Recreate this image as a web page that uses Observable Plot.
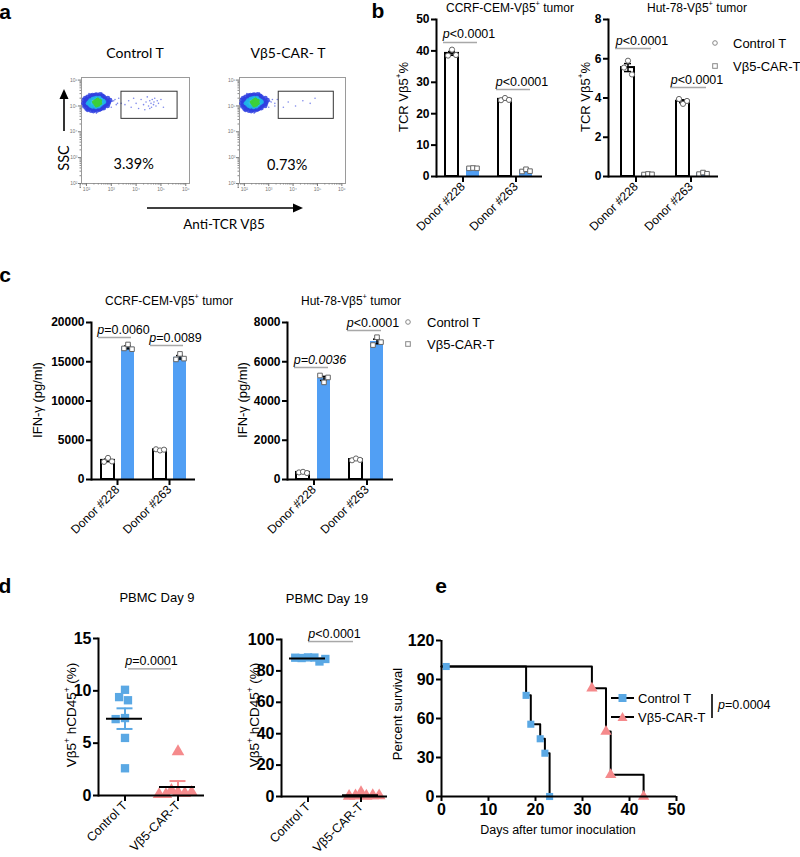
<!DOCTYPE html>
<html><head><meta charset="utf-8">
<script src="https://cdn.jsdelivr.net/npm/d3@7"></script>
<script src="https://cdn.jsdelivr.net/npm/@observablehq/plot@0.6"></script>
<style>
body{margin:0;background:#fff;}
#fig{position:relative;width:800px;height:857px;overflow:hidden;background:#fff;color:#000;font-family:"Liberation Sans",Arial,Helvetica,sans-serif;}
#fig sup{font-size:0.62em;line-height:0;vertical-align:0.75em;}
</style></head>
<body><div id="fig"></div>
<script>
// ---------------- DATA ----------------
const donors = ["Donor #228", "Donor #263"];
const groups = ["Control T", "Vβ5-CAR-T"];

// panel b: TCR Vβ5+ % (three replicates per donor)
const ccrfTcrControl = [[38.5, 40.4, 38.7], [24.3, 25.0, 24.4]];
const ccrfTcrCar = [[2.6, 2.7, 2.6], [1.6, 2.3, 1.7]];
const hutTcrControl = [[5.55, 5.9, 5.2], [3.95, 3.7, 3.85]];
const hutTcrCar = [[0.1, 0.13, 0.11], [0.12, 0.2, 0.14]];
const tcrTicksCcrf = [0, 10, 20, 30, 40, 50];
const tcrTicksHut = [0, 2, 4, 6, 8];

// panel c: IFN-γ (pg/ml)
const ccrfIfnControl = [[2250, 2750, 2300], [3850, 3700, 3800]];
const ccrfIfnCar = [[16700, 17200, 16600], [15300, 16000, 15400]];
const hutIfnControl = [[360, 390, 330], [980, 1070, 1000]];
const hutIfnCar = [[5300, 4950, 5200], [6850, 7250, 7000]];
const ifnTicksCcrf = [0, 5000, 10000, 15000, 20000];
const ifnTicksHut = [0, 2000, 4000, 6000, 8000];

// p-values (y = height of the comparison line)
const pTcrCcrf = [{y: 42.7, text: "<0.0001"}, {y: 27.7, text: "<0.0001"}];
const pTcrHut = [{y: 6.52, text: "<0.0001"}, {y: 4.53, text: "<0.0001"}];
const pIfnCcrf = [{y: 18089, text: "=0.0060"}, {y: 17070, text: "=0.0089"}];
const pIfnHut = [{y: 5707, text: "=0.0036", italic: true}, {y: 7592, text: "<0.0001"}];

// panel d: Vβ5+ hCD45+ (%)
const day9Control = [10.1, 9.4, 9.1, 7.4, 7.3, 5.5, 2.6];
const day9Car = [4.2, 0.3, 0.5, 0.2, 0.1, 0.3, 0.1];
const day19Control = [88.6, 88.2, 88.5, 86.0, 88.4, 87.6];
const day19Car = [2.5, 0.4, 0.3, 0.6, 0.2, 0.5];
const day9Ticks = [0, 5, 10, 15];
const day19Ticks = [0, 20, 40, 60, 80, 100];
const pDay9 = {y: 12.1, text: "=0.0001"};
const pDay19 = {y: 98.7, text: "<0.0001"};

// panel e: survival
const controlDays = [0, 18, 19, 21, 22, 23];
const controlSurvival = [100, 77.8, 55.6, 44.4, 33.3, 0];
const carDays = [0, 32, 35, 36, 43];
const carSurvival = [100, 83.3, 50, 16.7, 0];
const firstMarkerDay = 1;
const dayTicks = [0, 10, 20, 30, 40, 50];
const survTicks = [0, 30, 60, 90, 120];

// panel a: flow cytometry events, [log10 Vβ5, log10 SSC, density level]
const flowCluster = [
 [1.88,5.10,0],[1.90,5.22,0],[1.92,4.98,0],[1.95,5.30,0],[1.97,5.05,0],[2.00,4.90,0],[2.02,5.18,0],[2.05,5.35,0],
 [2.05,4.85,0],[2.08,5.00,0],[2.10,5.27,0],[2.12,4.95,0],[2.15,5.40,0],[2.18,4.82,0],[2.20,5.32,0],[2.22,4.90,0],
 [2.25,5.42,0],[2.28,4.80,0],[2.30,5.38,0],[2.35,4.85,0],[2.40,5.44,0],[2.42,4.82,0],[2.48,5.40,0],[2.52,4.86,0],
 [2.55,5.45,0],[2.60,4.90,0],[2.62,5.40,0],[2.66,4.95,0],[2.70,5.35,0],[2.72,5.00,0],[2.75,5.28,0],[2.78,5.05,0],
 [2.80,5.20,0],[2.83,5.12,0],[2.86,5.30,0],[2.90,5.15,0],[2.95,5.22,0],
 [1.95,5.15,0],[2.00,5.05,0],[2.85,5.00,0],[2.70,4.92,0],[2.45,4.90,0],[2.35,5.42,0],
 [2.00,5.25,0],[2.10,4.90,0],[2.30,4.88,0],[2.55,4.88,0],[2.65,5.38,0],[2.88,5.08,0],[1.93,5.05,0],[2.20,5.38,0],
 [3.05,5.18,3],[3.15,5.25,3],[3.25,5.10,3],[1.85,5.30,3],[2.40,4.72,3],[2.62,5.50,3],[3.00,4.95,3],[2.10,5.48,3],
 [2.05,5.10,1],[2.10,5.15,1],[2.12,5.05,1],[2.15,5.22,1],[2.18,5.00,1],[2.20,5.12,1],[2.25,5.28,1],[2.25,4.97,1],
 [2.30,5.05,1],[2.32,5.30,1],[2.38,4.95,1],[2.40,5.32,1],[2.50,4.98,1],[2.52,5.32,1],[2.58,5.05,1],[2.60,5.25,1],
 [2.65,5.10,1],[2.68,5.20,1],[2.72,5.15,1],
 [2.30,5.15,2],[2.35,5.08,2],[2.38,5.20,2],[2.42,5.12,2],[2.45,5.25,2],[2.48,5.05,2],[2.50,5.15,2],[2.55,5.20,2],
 [2.55,5.10,2],[2.45,5.15,2],[2.40,5.02,2]
];
const flowGateControl = [
 [3.55,5.05,3],[3.70,5.20,3],[3.80,4.95,3],[3.90,5.30,3],[4.00,5.10,3],[4.10,4.90,3],[4.20,5.25,3],[4.30,5.05,3],
 [4.35,4.85,3],[4.40,5.15,3],[4.45,5.35,3],[4.50,5.00,3],[4.55,5.20,3],[4.60,5.10,3],[4.62,4.95,3],[4.65,5.25,3],
 [4.70,5.05,3],[4.72,5.15,3],[4.75,5.30,3],[4.80,5.00,3],[4.85,5.20,3],[4.90,5.10,3],[5.00,5.25,3],[5.10,4.95,3],
 [4.55,4.90,3],[3.10,5.20,3],[3.20,5.05,3],[3.30,5.30,3],[3.40,5.10,3]
];
const flowGateCar = [
 [3.80,5.15,3],[4.10,5.00,3],[4.40,5.20,3],[4.70,5.10,3],[3.60,4.95,3],[4.90,5.30,3],[3.10,5.15,3],[3.25,5.00,3],[3.35,5.25,3]
];
const gateBounds = {x1: 10 ** 3.41, x2: 10 ** 5.67, y1: 10 ** 4.5, y2: 10 ** 5.55};
const gatePercentControl = {x: 10 ** 3.9, y: 10 ** 2.74, text: "3.39%"};
const gatePercentCar = {x: 10 ** 3.76, y: 10 ** 2.72, text: "0.73%"};

// ---------------- HELPERS ----------------
const FONT = '"Liberation Sans", Arial, Helvetica, sans-serif';
const FLOWFONT = 'Lato, "Open Sans", sans-serif';
const BLUE_BAR = "#519ff4";
const BLUE_PT = "#5aa8e4";
const PINK = "#f58a8c";
const PLINE = "#a8a8a8";
const PSIZE = 12.5;
const fig = document.getElementById("fig");
const baseStyle = {fontFamily: FONT, fontSize: "12px", color: "black", background: "transparent", overflow: "visible", maxWidth: "none"};

function mount(opts, left, top) {
  const el = Plot.plot({...opts, style: baseStyle});
  const w = document.createElement("div");
  w.style.cssText = `position:absolute;left:${left}px;top:${top}px;width:${opts.width}px;height:${opts.height}px;`;
  w.appendChild(el);
  fig.appendChild(w);
}
function label(html, x, y, o = {}) {
  const d = document.createElement("div");
  d.innerHTML = html;
  const tr = o.anchor === "start" ? "translate(0,-50%)" : "translate(-50%,-50%)";
  d.style.cssText = `position:absolute;left:${x}px;top:${y}px;white-space:nowrap;line-height:1;` +
    `font-size:${o.size || 12}px;font-family:${o.font || FONT};font-weight:${o.weight || "normal"};` +
    `transform:${tr}${o.rotate ? " rotate(" + o.rotate + "deg)" : ""};`;
  fig.appendChild(d);
}
const ctx = document.createElement("canvas").getContext("2d");
function tw(t, size, italic) { ctx.font = `${italic ? "italic " : ""}${size}px ${FONT}`; return ctx.measureText(t).width; }
function pMarks(data, o) {
  return data.flatMap(d => {
    const wp = tw("p", o.size, true), wr = tw(d.text, o.size, !!d.italic);
    const dx = (o.shift || 0) - (wp + wr) / 2 + wp;
    const common = {fx: "fx", y: "y", dx, dy: o.dy, fontSize: o.size, frameAnchor: o.frameAnchor || "middle"};
    return [
      Plot.text([d], {...common, text: () => "p", textAnchor: "end", fontStyle: "italic"}),
      Plot.text([d], {...common, text: "text", textAnchor: "start", fontStyle: d.italic ? "italic" : "normal"})
    ];
  });
}

// ---------------- BAR PANELS (b, c) ----------------
function barPanel(o) {
  const reps = [];
  donors.forEach((dn, i) => {
    o.control[i].forEach((v, r) => reps.push({donor: dn, group: groups[0], value: v, rep: r}));
    o.car[i].forEach((v, r) => reps.push({donor: dn, group: groups[1], value: v, rep: r}));
  });
  const stats = d3.flatGroup(reps, d => d.donor, d => d.group).map(([donor, group, vs]) => {
    const vals = vs.map(d => d.value);
    const m = d3.mean(vals), s = d3.deviation(vals) / Math.sqrt(vals.length);
    return {donor, group, mean: m, lo: m - s, hi: m + s};
  });
  const pdata = o.p.map((p, i) => ({...p, fx: donors[i]}));
  const ctrlFilter = d => d.group === groups[0];
  mount({
    width: o.width, height: o.height, marginLeft: o.ml, marginTop: o.mt, marginRight: o.mr, marginBottom: o.mb,
    fx: {domain: donors, paddingInner: 0, paddingOuter: 0},
    x: {domain: groups, paddingInner: 0.36, paddingOuter: o.po ?? 0.43, align: o.align ?? 0.5, axis: null},
    y: {domain: o.yDomain},
    marks: [
      Plot.barY(stats, {fx: "donor", x: "group", y: "mean", filter: ctrlFilter, fill: "white", stroke: "black", strokeWidth: 2}),
      Plot.barY(stats, {fx: "donor", x: "group", y: "mean", filter: d => !ctrlFilter(d), fill: BLUE_BAR}),
      Plot.ruleX(stats, {fx: "donor", x: "group", y1: "lo", y2: "hi", stroke: "black", strokeWidth: 1.5}),
      Plot.tickY(stats, {fx: "donor", x: "group", y: "hi", stroke: "black", strokeWidth: 1.5, insetLeft: 3, insetRight: 3}),
      Plot.tickY(stats, {fx: "donor", x: "group", y: "lo", stroke: "black", strokeWidth: 1.5, insetLeft: 3, insetRight: 3}),
      ...[0, 1, 2].map(r => Plot.dot(reps.filter(d => d.rep === r), {
        fx: "donor", x: "group", y: "value", dx: (r - 1) * 4, r: 2.6,
        symbol: d => ctrlFilter(d) ? "circle" : "square", fill: "white", stroke: "#666", strokeWidth: 1
      })),
      Plot.ruleY(pdata, {fx: "fx", y: "y", stroke: PLINE, strokeWidth: 1.5, insetLeft: 7, insetRight: 12}),
      ...pMarks(pdata, {size: PSIZE, dy: -8, shift: 6}),
      Plot.frame({anchor: "left", facetAnchor: "left", strokeWidth: 2}),
      Plot.ruleY([0], {strokeWidth: 2}),
      Plot.axisY({ticks: o.yTicks, tickFormat: d3.format("d"), tickSize: 5, tickPadding: 2, fontSize: 12, fontWeight: "bold", strokeWidth: 2, label: null}),
      Plot.axisFx({anchor: "bottom", tickSize: 6, tickRotate: -45, tickPadding: 2, fontSize: 12, strokeWidth: 2, label: null})
    ]
  }, o.left, o.top);
}

barPanel({control: ccrfTcrControl, car: ccrfTcrCar, yDomain: [0, 50], yTicks: tcrTicksCcrf, p: pTcrCcrf,
  left: 376, top: 0, width: 180, height: 245, ml: 60, mt: 19, mr: 14, mb: 69});
barPanel({control: hutTcrControl, car: hutTcrCar, yDomain: [0, 8], yTicks: tcrTicksHut, p: pTcrHut,
  left: 560, top: 0, width: 175, height: 245, ml: 47, mt: 19, mr: 17, mb: 69, po: 0.5, align: 0.58});
barPanel({control: ccrfIfnControl, car: ccrfIfnCar, yDomain: [0, 20000], yTicks: ifnTicksCcrf, p: pIfnCcrf,
  left: 30, top: 300, width: 180, height: 245, ml: 60, mt: 22, mr: 15, mb: 66});
barPanel({control: hutIfnControl, car: hutIfnCar, yDomain: [0, 8000], yTicks: ifnTicksHut, p: pIfnHut,
  left: 230, top: 300, width: 180, height: 245, ml: 57, mt: 22, mr: 17, mb: 66});

// ---------------- DOT PANELS (d) ----------------
function dotPanel(o) {
  const pts = [
    ...o.control.map(v => ({group: groups[0], value: v})),
    ...o.car.map(v => ({group: groups[1], value: v}))
  ];
  const colors = [BLUE_PT, PINK];
  const stats = groups.map((g, i) => {
    const vals = pts.filter(d => d.group === g).map(d => d.value);
    const m = d3.mean(vals), s = d3.deviation(vals) / Math.sqrt(vals.length);
    return {group: g, mean: m, lo: m - s, hi: m + s, color: colors[i]};
  });
  const pl = [{fx: groups[0], y: o.p.y}, {fx: groups[1], y: o.p.y}];
  mount({
    width: o.width, height: o.height, marginLeft: o.ml, marginTop: o.mt, marginRight: o.mr, marginBottom: o.mb,
    fx: {domain: groups, paddingInner: 0, paddingOuter: 0},
    x: {domain: [-1, 1], axis: null},
    y: {domain: o.yDomain},
    marks: [
      Plot.ruleX(stats, {fx: "group", x: () => 0, y1: "lo", y2: "hi", stroke: "color", strokeWidth: 2}),
      Plot.ruleY(stats, {fx: "group", y: "hi", stroke: "color", strokeWidth: 2, insetLeft: 18.5, insetRight: 18.5}),
      Plot.ruleY(stats, {fx: "group", y: "lo", stroke: "color", strokeWidth: 2, insetLeft: 18.5, insetRight: 18.5}),
      Plot.dot(pts.filter(d => d.group === groups[0]), Plot.dodgeX({anchor: "middle", padding: o.padCtrl},
        {fx: "group", y: "value", r: 4.7, symbol: "square", fill: BLUE_PT})),
      Plot.dot(pts.filter(d => d.group === groups[1]), Plot.dodgeX({anchor: "middle", padding: o.padCar},
        {fx: "group", y: "value", r: 4.7, symbol: "triangle", fill: PINK})),
      Plot.ruleY(stats, {fx: "group", y: "mean", stroke: "black", strokeWidth: 2, insetLeft: 8, insetRight: 9}),
      Plot.ruleY(pl.slice(0, 1), {fx: "fx", y: "y", stroke: PLINE, strokeWidth: 1.5, insetLeft: o.pIn[0]}),
      Plot.ruleY(pl.slice(1), {fx: "fx", y: "y", stroke: PLINE, strokeWidth: 1.5, insetRight: o.pIn[1]}),
      ...pMarks([{fx: groups[0], y: o.p.y, text: o.p.text}], {size: PSIZE, dy: -7.5, shift: 0, frameAnchor: "right"}),
      Plot.frame({anchor: "left", facetAnchor: "left", strokeWidth: 2}),
      Plot.ruleY([0], {strokeWidth: 2}),
      Plot.axisY({ticks: o.yTicks, tickFormat: d3.format("d"), tickSize: 5, tickPadding: 2, fontSize: 16, fontWeight: "bold", strokeWidth: 2, label: null}),
      Plot.axisFx({anchor: "bottom", tickSize: 6, tickRotate: -45, tickPadding: 2, fontSize: 12.5, strokeWidth: 2, label: null})
    ]
  }, o.left, o.top);
}
dotPanel({control: day9Control, car: day9Car, yDomain: [0, 15], yTicks: day9Ticks, p: pDay9, padCtrl: 0, padCar: -2.5, pIn: [30, 33],
  left: 30, top: 600, width: 185, height: 257, ml: 68, mt: 38, mr: 11, mb: 62});
dotPanel({control: day19Control, car: day19Car, yDomain: [0, 100], yTicks: day19Ticks, p: pDay19, padCtrl: -3, padCar: -3, pIn: [27, 34],
  left: 215, top: 600, width: 185, height: 257, ml: 66, mt: 39, mr: 13, mb: 61});

// ---------------- SURVIVAL (e) ----------------
const ctrlSurv = controlDays.map((d, i) => ({day: d, pct: controlSurvival[i]}));
const carSurv = carDays.map((d, i) => ({day: d, pct: carSurvival[i]}));
mount({
  width: 300, height: 230, marginLeft: 51, marginTop: 20, marginRight: 14, marginBottom: 54,
  x: {domain: [0, 50]}, y: {domain: [0, 120]},
  marks: [
    Plot.line(carSurv, {x: "day", y: "pct", curve: "step-after", stroke: "black", strokeWidth: 2}),
    Plot.line(ctrlSurv, {x: "day", y: "pct", curve: "step-after", stroke: "black", strokeWidth: 2}),
    Plot.dot(carSurv.slice(1), {x: "day", y: "pct", symbol: "triangle", r: 4.2, fill: PINK}),
    Plot.dot(ctrlSurv.slice(1), {x: "day", y: "pct", symbol: "square", r: 4, fill: BLUE_PT}),
    Plot.dot([{day: firstMarkerDay, pct: ctrlSurv[0].pct}], {x: "day", y: "pct", symbol: "square", r: 4, fill: BLUE_PT}),
    Plot.ruleX([0], {strokeWidth: 2}),
    Plot.ruleY([0], {strokeWidth: 2}),
    Plot.axisX({ticks: dayTicks, tickSize: 5, tickPadding: 2, fontSize: 16, fontWeight: "bold", strokeWidth: 2, label: null}),
    Plot.axisY({ticks: survTicks, tickSize: 5, tickPadding: 2, fontSize: 16, fontWeight: "bold", strokeWidth: 2, label: null})
  ]
}, 390, 620);

// ---------------- FLOW (a) ----------------
const supDigits = {2: "²", 3: "³", 4: "⁴", 5: "⁵", 6: "⁶"};
const powers = [2, 3, 4, 5, 6];
const minors = d3.range(1, 6).flatMap(k => d3.range(2, 10).map(m => m * 10 ** k)).filter(v => v >= 10 ** 1.8 && v <= 10 ** 6.1);
const flowColors = ["#2f3fe0", "#1fb6e8", "#3ccf3c", "#5d6ae6"];
const flowR = [2.4, 2.0, 2.0, 0.8];
const flowOpacity = [0.85, 0.9, 1, 0.8];
function flowPlot(events, gatePct, left, width, mr) {
  mount({
    width, height: 140, marginLeft: 21, marginTop: 17, marginRight: mr, marginBottom: 17,
    x: {type: "log", domain: [10 ** 1.8, 10 ** 6.15]},
    y: {type: "log", domain: [100, 10 ** 6.1]},
    marks: [
      Plot.frame({stroke: "#9a9a9a"}),
      ...[3, 0, 1, 2].map(l => Plot.dot(events.filter(d => d[2] === l), {
        x: d => 10 ** d[0], y: d => 10 ** d[1], r: flowR[l], fill: flowColors[l], fillOpacity: flowOpacity[l], stroke: null
      })),
      Plot.rect([gateBounds], {x1: "x1", x2: "x2", y1: "y1", y2: "y2", fill: "none", stroke: "#333", strokeWidth: 1}),
      Plot.text([gatePct], {x: "x", y: "y", text: "text", fontSize: 14.5, fontFamily: FLOWFONT}),
      Plot.axisX({ticks: powers.map(k => 10 ** k), tickFormat: v => "10" + supDigits[Math.round(Math.log10(v))], tickSize: 3, tickPadding: 1, fontSize: 5, color: "#777", label: null}),
      Plot.axisX({ticks: minors, tickFormat: () => "", tickSize: 1.5, color: "#888", label: null}),
      Plot.axisY({ticks: powers.map(k => 10 ** k), tickFormat: v => "10" + supDigits[Math.round(Math.log10(v))], tickSize: 3, tickPadding: 1, fontSize: 5, color: "#777", label: null}),
      Plot.axisY({ticks: minors, tickFormat: () => "", tickSize: 1.5, color: "#888", label: null})
    ]
  }, left, 60);
}
flowPlot(flowCluster.concat(flowGateControl), gatePercentControl, 60, 140, 11);
flowPlot(flowCluster.concat(flowGateCar), gatePercentCar, 218, 140, 13);

// ---------------- ANNOTATION GLYPHS ----------------
const ns = "http://www.w3.org/2000/svg";
const ann = document.createElementNS(ns, "svg");
ann.setAttribute("width", 800); ann.setAttribute("height", 857);
ann.style.cssText = "position:absolute;left:0;top:0;pointer-events:none;overflow:visible;";
ann.innerHTML = `
  <line x1="64" y1="131" x2="64" y2="97" stroke="#000" stroke-width="1.6"/>
  <polygon points="64,89 59.5,99 68.5,99" fill="#000"/>
  <line x1="147" y1="208" x2="294" y2="208" stroke="#000" stroke-width="1.6"/>
  <polygon points="303,208 293,203.5 293,212.5" fill="#000"/>
  <circle cx="715" cy="43" r="2.3" fill="none" stroke="#888" stroke-width="1"/>
  <rect x="712.7" y="63.7" width="4.6" height="4.6" fill="none" stroke="#888" stroke-width="1"/>
  <circle cx="408" cy="322" r="2.3" fill="none" stroke="#888" stroke-width="1"/>
  <rect x="405.7" y="341.7" width="4.6" height="4.6" fill="none" stroke="#888" stroke-width="1"/>
  <line x1="611" y1="698" x2="634" y2="698" stroke="#000" stroke-width="2"/>
  <rect x="618.5" y="694" width="8" height="8" fill="${BLUE_PT}"/>
  <line x1="611" y1="717" x2="634" y2="717" stroke="#000" stroke-width="2"/>
  <polygon points="622.5,712 627.5,721 617.5,721" fill="${PINK}"/>
  <line x1="712" y1="694" x2="712" y2="718" stroke="#000" stroke-width="1.6"/>
`;
fig.appendChild(ann);

// ---------------- TEXT ----------------
label("a", 5, 11, {size: 21, weight: "bold"});
label("b", 378, 10, {size: 21, weight: "bold"});
label("c", 5, 274, {size: 21, weight: "bold"});
label("d", 5, 585, {size: 21, weight: "bold"});
label("e", 441, 585, {size: 21, weight: "bold"});

label("Control T", 135, 53, {size: 14, font: FLOWFONT});
label("Vβ5-CAR- T", 288, 53, {size: 14, font: FLOWFONT});
label("SSC", 64, 158, {size: 14.5, font: FLOWFONT, rotate: -90});
label("Anti-TCR Vβ5", 224, 225, {size: 13.5, font: FLOWFONT});

label("CCRF-CEM-Vβ5<sup>+</sup> tumor", 510, 8, {size: 12});
label("Hut-78-Vβ5<sup>+</sup> tumor", 697, 8, {size: 12});
label("TCR Vβ5<sup>+</sup>%", 403, 97, {size: 13, rotate: -90});
label("TCR Vβ5<sup>+</sup>%", 585, 97, {size: 13, rotate: -90});
label("Control T", 733, 43, {size: 13, anchor: "start"});
label("Vβ5-CAR-T", 733, 66, {size: 13, anchor: "start"});

label("CCRF-CEM-Vβ5<sup>+</sup> tumor", 169, 301, {size: 12});
label("Hut-78-Vβ5<sup>+</sup> tumor", 351, 301, {size: 12});
label("IFN-γ (pg/ml)", 37, 400, {size: 13, rotate: -90});
label("IFN-γ (pg/ml)", 242, 400, {size: 13, rotate: -90});
label("Control T", 427, 322, {size: 13, anchor: "start"});
label("Vβ5-CAR-T", 427, 344, {size: 13, anchor: "start"});

label("PBMC Day 9", 157, 597, {size: 13});
label("PBMC Day 19", 327, 598, {size: 13});
label("Vβ5<sup>+</sup> hCD45<sup>+</sup> (%)", 72, 715, {size: 13.5, rotate: -90});
label("Vβ5<sup>+</sup> hCD45<sup>+</sup> (%)", 255, 715, {size: 13.5, rotate: -90});

label("Percent survival", 397, 714, {size: 13, rotate: -90});
label("Days after tumor inoculation", 558, 830, {size: 12.5});
label("Control T", 638, 698, {size: 13, anchor: "start"});
label("Vβ5-CAR-T", 638, 717, {size: 13, anchor: "start"});
label("<i>p</i>=0.0004", 718, 705, {size: 12.5, anchor: "start"});
</script>
</body></html>
